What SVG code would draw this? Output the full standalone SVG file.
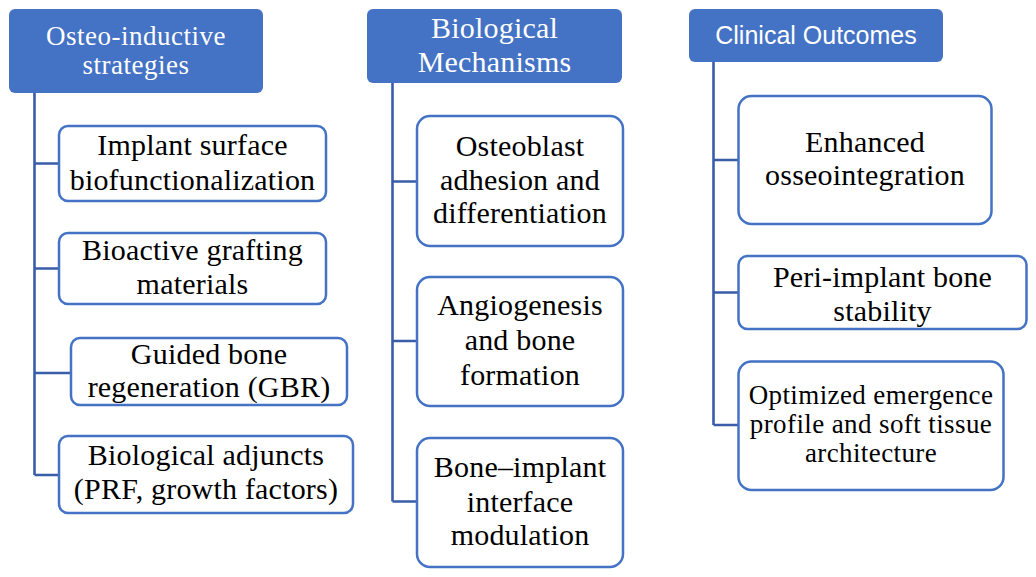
<svg xmlns="http://www.w3.org/2000/svg" width="1036" height="577" viewBox="0 0 1036 577">
<style>
.hdr{fill:#4472C4;}
.box{fill:#FFFFFF;stroke:#4472C4;stroke-width:2.5;}
.con{fill:none;stroke:#3A5DA9;stroke-width:2.6;}
.t{font-family:"Liberation Serif","Times New Roman",serif;font-size:30px;letter-spacing:0.2px;fill:#000;text-anchor:middle;}
.ts{font-family:"Liberation Serif","Times New Roman",serif;font-size:27px;letter-spacing:0.4px;fill:#000;text-anchor:middle;}
.h{font-family:"Liberation Serif","Times New Roman",serif;fill:#FFFFFF;text-anchor:middle;}
.hs{font-family:"Liberation Sans",Arial,sans-serif;font-size:25px;fill:#FFFFFF;text-anchor:middle;}
</style>
<rect width="1036" height="577" fill="#FFFFFF"/>
<g id="connectors">
<path class="con" d="M34.5 93 V475 M34.5 163.5 H59 M34.5 268.5 H59 M34.5 373 H71 M34.5 475 H59"/>
<path class="con" d="M392.5 83 V501.5 M392.5 181.5 H417 M392.5 341 H417 M392.5 501.5 H417"/>
<path class="con" d="M713.5 62 V425 M713.5 160 H738 M713.5 292.5 H738 M713.5 425 H738"/>
</g>
<g id="h1">
<rect class="hdr" x="9" y="9" width="254" height="84" rx="6"/>
<text class="h" x="136" y="44.5" font-size="27" letter-spacing="0.5">Osteo-inductive</text>
<text class="h" x="136" y="74" font-size="27" letter-spacing="0.5">strategies</text>
</g>
<g id="h2">
<rect class="hdr" x="367" y="9" width="255" height="74" rx="6"/>
<text class="h" x="494.5" y="37.5" font-size="30" letter-spacing="0.2">Biological</text>
<text class="h" x="494.5" y="71.5" font-size="30" letter-spacing="0.2">Mechanisms</text>
</g>
<g id="h3">
<rect class="hdr" x="689" y="9" width="254" height="53" rx="6"/>
<text class="hs" x="816" y="44">Clinical Outcomes</text>
</g>
<g id="n1">
<rect class="box" x="59" y="126" width="267" height="75" rx="9"/>
<text class="t" x="192.5" y="155">Implant surface</text>
<text class="t" x="192.5" y="190">biofunctionalization</text>
</g>
<g id="n2">
<rect class="box" x="59" y="233" width="267" height="71" rx="9"/>
<text class="t" x="192.5" y="260">Bioactive grafting</text>
<text class="t" x="192.5" y="294">materials</text>
</g>
<g id="n3">
<rect class="box" x="71" y="338" width="276" height="67" rx="9"/>
<text class="t" x="209" y="363.5">Guided bone</text>
<text class="t" x="209" y="397">regeneration (GBR)</text>
</g>
<g id="n4">
<rect class="box" x="59" y="436" width="294" height="77" rx="9"/>
<text class="t" x="206" y="465">Biological adjuncts</text>
<text class="t" x="206" y="499">(PRF, growth factors)</text>
</g>
<g id="n5">
<rect class="box" x="417" y="116" width="206" height="130" rx="13"/>
<text class="t" x="520" y="156">Osteoblast</text>
<text class="t" x="520" y="190">adhesion and</text>
<text class="t" x="520" y="223">differentiation</text>
</g>
<g id="n6">
<rect class="box" x="417" y="277" width="206" height="129" rx="13"/>
<text class="t" x="520" y="315">Angiogenesis</text>
<text class="t" x="520" y="350">and bone</text>
<text class="t" x="520" y="384.5">formation</text>
</g>
<g id="n7">
<rect class="box" x="417" y="438" width="206" height="129" rx="13"/>
<text class="t" x="520" y="477">Bone–implant</text>
<text class="t" x="520" y="511.5">interface</text>
<text class="t" x="520" y="545">modulation</text>
</g>
<g id="n8">
<rect class="box" x="738.5" y="96" width="253" height="128" rx="13"/>
<text class="t" x="865" y="152">Enhanced</text>
<text class="t" x="865" y="185">osseointegration</text>
</g>
<g id="n9">
<rect class="box" x="738.5" y="256" width="288" height="73" rx="9"/>
<text class="t" x="882.5" y="287">Peri-implant bone</text>
<text class="t" x="882.5" y="321">stability</text>
</g>
<g id="n10">
<rect class="box" x="738.5" y="361.5" width="265" height="128.5" rx="13"/>
<text class="ts" x="871" y="403.5">Optimized emergence</text>
<text class="ts" x="871" y="433">profile and soft tissue</text>
<text class="ts" x="871" y="462">architecture</text>
</g>
</svg>
